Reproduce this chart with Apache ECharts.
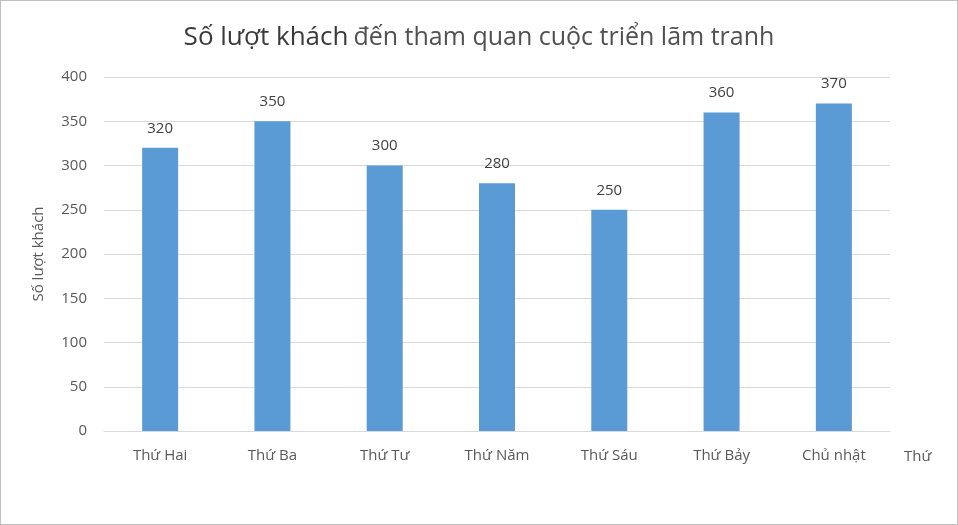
<!DOCTYPE html>
<html><head><meta charset="utf-8">
<script src="https://cdn.jsdelivr.net/npm/echarts@6/dist/echarts.min.js"></script>
<style>html,body{margin:0;padding:0;background:#fff}#c{width:958px;height:525px;box-sizing:border-box;border:1px solid #bfbfbf}</style>
</head><body><div id="c"></div>
<script>
const categories = ['Thứ Hai','Thứ Ba','Thứ Tư','Thứ Năm','Thứ Sáu','Thứ Bảy','Chủ nhật'];
const visitors = [320, 350, 300, 280, 250, 360, 370];
const yTicks = [0, 50, 100, 150, 200, 250, 300, 350, 400];

const chart = echarts.init(document.getElementById('c'));
chart.setOption({
  animation: false,
  title: {
    text: '{a|Số lượt khách} {b|đến tham quan cuộc triển lãm tranh}',
    left: 'center', top: 19,
    textStyle: {
      fontWeight: 'normal',
      rich: {
        a: {fontFamily: 'Open Sans', fontSize: 26, fontWeight: 'normal', color: '#3a3a3a'},
        b: {fontFamily: 'Open Sans', fontSize: 25, fontWeight: 'normal', color: '#505050'}
      }
    }
  },
  grid: {left: 103, right: 67, top: 76, bottom: 93, containLabel: false},
  xAxis: {
    type: 'category', data: categories,
    name: 'Thứ', nameLocation: 'end', nameGap: 14,
    nameTextStyle: {color: '#595959', fontSize: 15, fontFamily: 'Open Sans', verticalAlign: 'top', padding: [18,0,0,0]},
    axisLine: {lineStyle: {color: '#d9d9d9'}},
    axisTick: {show: false},
    axisLabel: {color: '#595959', fontSize: 15, fontFamily: 'Open Sans', margin: 17}
  },
  yAxis: {
    type: 'value', min: yTicks[0], max: yTicks[yTicks.length-1], interval: 50,
    name: 'Số lượt khách', nameLocation: 'middle', nameGap: 58, nameRotate: 90,
    nameTextStyle: {color: '#595959', fontSize: 15, fontFamily: 'Open Sans'},
    axisLine: {show: false}, axisTick: {show: false},
    axisLabel: {color: '#595959', fontSize: 15, fontFamily: 'Open Sans', margin: 17},
    splitLine: {lineStyle: {color: '#d9d9d9'}}
  },
  series: [{
    type: 'bar', data: visitors, barWidth: 36,
    itemStyle: {color: '#5b9bd5'},
    label: {show: true, position: 'top', distance: 12, color: '#404040', fontSize: 15, fontFamily: 'Open Sans'}
  }]
});
</script></body></html>
